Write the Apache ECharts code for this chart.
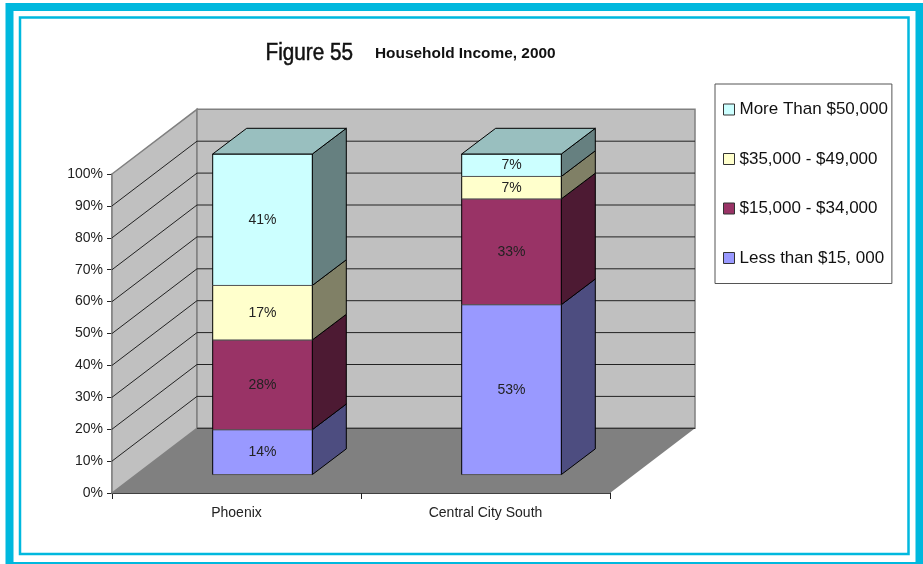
<!DOCTYPE html>
<html>
<head>
<meta charset="utf-8">
<style>
  html, body { margin: 0; padding: 0; background: #fff; }
  #main { width: 923px; height: 564px; }
</style>
<script src="https://cdn.jsdelivr.net/npm/echarts@6/dist/echarts.min.js"></script>
</head>
<body>
<div id="main"></div>
<script>
const categories = ['Phoenix', 'Central City South'];
const lessThan15 = [14, 53];
const from15to34 = [28, 33];
const from35to49 = [17, 7];
const moreThan50 = [41, 7];
const gridTicks = [10, 20, 30, 40, 50, 60, 70, 80, 90];

const FONT = '"Liberation Sans", Arial, sans-serif';
// 3d look: how far the back wall and the bars sit from the front plane
const WALL_DX = 85, WALL_DY = -64.7;
const BAR_SHIFT_X = 26, BAR_SHIFT_Y = -18.4, BAR_DX = 34, BAR_DY = -25.7;
const BAR_SCALE = 1.005;

let chart = echarts.init(document.getElementById('main'), null, { renderer: 'canvas' });

function shade(color, k) {
  let c = echarts.color.parse(color);
  return 'rgb(' + Math.round(c[0] * k) + ',' + Math.round(c[1] * k) + ',' + Math.round(c[2] * k) + ')';
}

function renderWalls(params, api) {
  let cs = params.coordSys;
  let top = api.coord([0, 100])[1], bottom = api.coord([0, 0])[1];
  let left = cs.x, right = cs.x + cs.width;
  let edge = { stroke: '#808080', lineWidth: 1.5 };
  return {
    type: 'group',
    children: [
      { type: 'polygon',
        shape: { points: [[left, bottom], [left + WALL_DX, bottom + WALL_DY], [right + WALL_DX, bottom + WALL_DY], [right, bottom]] },
        style: { fill: '#808080' } },
      { type: 'polygon',
        shape: { points: [[left, top], [left + WALL_DX, top + WALL_DY], [left + WALL_DX, bottom + WALL_DY], [left, bottom]] },
        style: Object.assign({ fill: '#c0c0c0' }, edge) },
      { type: 'rect',
        shape: { x: left + WALL_DX, y: top + WALL_DY, width: cs.width, height: bottom - top },
        style: Object.assign({ fill: '#c0c0c0' }, edge) },
      { type: 'line',
        shape: { x1: left + WALL_DX, y1: bottom + WALL_DY, x2: right + WALL_DX, y2: bottom + WALL_DY },
        style: { stroke: '#222', lineWidth: 1 } }
    ]
  };
}

function renderGridLine(params, api) {
  let cs = params.coordSys;
  let y = api.coord([0, api.value(0)])[1];
  return {
    type: 'polyline',
    shape: { points: [[cs.x, y], [cs.x + WALL_DX, y + WALL_DY], [cs.x + cs.width + WALL_DX, y + WALL_DY]] },
    style: { stroke: '#222', lineWidth: 1, fill: null }
  };
}

function renderBar(params, api) {
  let cat = api.value(0), start = api.value(1), end = api.value(2);
  let base = api.coord([cat, 0]);
  let width = api.size([1, 0])[0] * 0.4;
  let x1 = base[0] + BAR_SHIFT_X - width / 2, x2 = x1 + width;
  let yOf = v => base[1] + (api.coord([cat, v])[1] - base[1]) * BAR_SCALE + BAR_SHIFT_Y;
  let y1 = yOf(start), y2 = yOf(end);
  let color = api.visual('color');
  let line = { stroke: '#000', lineWidth: 1 };
  let soft = { stroke: '#555', lineWidth: 1 };
  let children = [
    { type: 'polygon',
      shape: { points: [[x2, y1], [x2 + BAR_DX, y1 + BAR_DY], [x2 + BAR_DX, y2 + BAR_DY], [x2, y2]] },
      style: Object.assign({ fill: shade(color, 0.5) }, line) },
    { type: 'rect',
      shape: { x: x1, y: y2, width: width, height: y1 - y2 },
      style: { fill: color } },
    { type: 'line', shape: { x1: x1, y1: y1, x2: x2, y2: y1 }, style: soft },
    { type: 'line', shape: { x1: x1, y1: y2, x2: x2, y2: y2 }, style: end >= 100 ? line : soft },
    { type: 'line', shape: { x1: x1, y1: y1, x2: x1, y2: y2 }, style: line },
    { type: 'line', shape: { x1: x2, y1: y1, x2: x2, y2: y2 }, style: line }
  ];
  if (end >= 100) {
    children.push({ type: 'polygon',
      shape: { points: [[x1, y2], [x1 + BAR_DX, y2 + BAR_DY], [x2 + BAR_DX, y2 + BAR_DY], [x2, y2]] },
      style: Object.assign({ fill: shade(color, 0.75) }, line) });
  }
  children.push({ type: 'text',
    style: { x: (x1 + x2) / 2, y: (y1 + y2) / 2, text: (end - start) + '%', align: 'center', verticalAlign: 'middle',
      fill: '#222', font: '14px ' + FONT } });
  return { type: 'group', children: children };
}

// stack the four parts per category
let running = categories.map(() => 0);
function stackData(values) {
  return values.map((v, i) => {
    let row = [i, running[i], running[i] + v];
    running[i] += v;
    return row;
  });
}
function barSeries(name, color, values) {
  return {
    name: name, type: 'custom', renderItem: renderBar, z: 5,
    itemStyle: { color: color },
    encode: { x: 0, y: [1, 2] },
    data: stackData(values)
  };
}

let option = {
  animation: false,
  backgroundColor: '#fff',
  legend: {
    orient: 'vertical', left: 715, top: 84,
    padding: [17, 4, 17, 8],
    itemWidth: 11, itemHeight: 11, itemGap: 32.5,
    icon: 'rect',
    backgroundColor: '#fff', borderColor: '#555', borderWidth: 1,
    itemStyle: { borderColor: '#333', borderWidth: 1 },
    textStyle: { fontFamily: FONT, fontSize: 17, color: '#111' },
    data: ['More Than $50,000', '$35,000 - $49,000', '$15,000 - $34,000', 'Less than $15, 000']
  },
  grid: { left: 112, right: 313, top: 174, bottom: 71, containLabel: false },
  xAxis: {
    type: 'category', data: categories,
    axisLine: { lineStyle: { color: '#404040', width: 2 } },
    axisTick: { show: true, length: 6, lineStyle: { color: '#222' } },
    axisLabel: { fontFamily: FONT, fontSize: 14, color: '#222', margin: 13 }
  },
  yAxis: {
    type: 'value', min: 0, max: 100, interval: 10,
    axisLine: { show: true, lineStyle: { color: '#808080', width: 1.5 } },
    axisTick: { show: true, length: 5, lineStyle: { color: '#222' } },
    axisLabel: { fontFamily: FONT, fontSize: 14, color: '#222', margin: 9, formatter: '{value}%' },
    splitLine: { show: false }
  },
  graphic: [
    { type: 'rect', z: -10, silent: true, shape: { x: 9.5, y: 7, width: 910, height: 559 },
      style: { fill: '#fff', stroke: '#00b8de', lineWidth: 8 } },
    { type: 'rect', z: -9, silent: true, shape: { x: 20, y: 17.5, width: 888.5, height: 536.5 },
      style: { fill: '#fff', stroke: '#00b8de', lineWidth: 2.5 } },
    { type: 'text', x: 265.5, y: 54, scaleX: 0.9, silent: true,
      style: { text: 'Figure 55', fill: '#111', stroke: '#111', lineWidth: 0.5, verticalAlign: 'middle', font: '23px ' + FONT } },
    { type: 'text', x: 375, y: 54, scaleX: 1.1, silent: true,
      style: { text: 'Household Income, 2000', fill: '#111', verticalAlign: 'middle', font: 'bold 14px ' + FONT } }
  ],
  series: [
    { type: 'custom', renderItem: renderWalls, z: 1, silent: true, data: [[0]], encode: { x: -1, y: -1 } },
    { type: 'custom', renderItem: renderGridLine, z: 2, silent: true, data: gridTicks.map(t => [t]), encode: { x: -1, y: -1 } },
    barSeries('Less than $15, 000', '#9999ff', lessThan15),
    barSeries('$15,000 - $34,000', '#993366', from15to34),
    barSeries('$35,000 - $49,000', '#ffffcc', from35to49),
    barSeries('More Than $50,000', '#ccffff', moreThan50)
  ]
};
chart.setOption(option);
</script>
</body>
</html>
